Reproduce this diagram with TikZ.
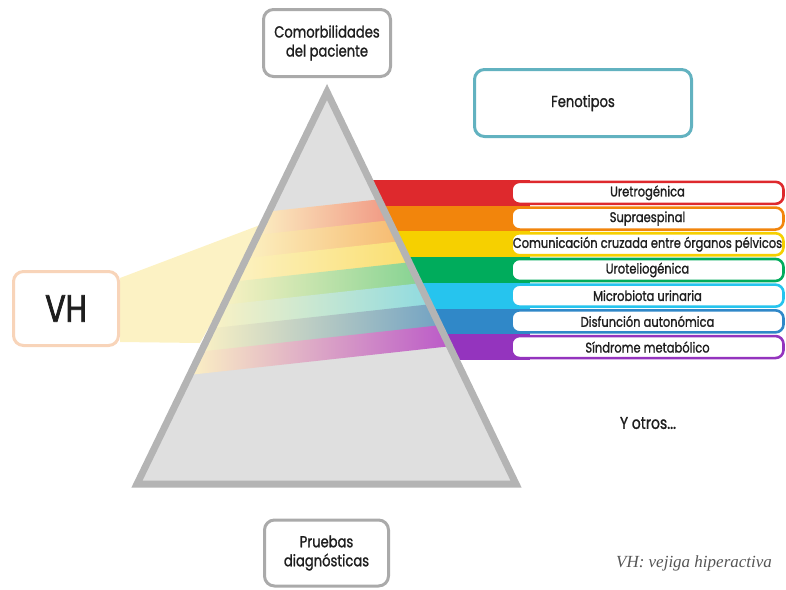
\documentclass[tikz,border=0pt]{standalone}
\usepackage{fontspec}
\setsansfont{Poppins}[FakeStretch=0.82, FakeBold=1.2]
\newfontfamily\vhfont{Poppins}[FakeStretch=0.8, FakeBold=2]
\newfontfamily\notefont{Liberation Serif}
\usetikzlibrary{positioning,backgrounds}

\definecolor{bandred}{RGB}{222,41,45}
\definecolor{bandorange}{RGB}{242,133,12}
\definecolor{bandyellow}{RGB}{246,208,0}
\definecolor{bandgreen}{RGB}{0,172,92}
\definecolor{bandcyan}{RGB}{38,196,238}
\definecolor{bandblue}{RGB}{48,136,200}
\definecolor{bandpurple}{RGB}{148,52,190}
\definecolor{innerred}{RGB}{240,150,130}
\definecolor{innerorange}{RGB}{246,185,110}
\definecolor{inneryellow}{RGB}{250,222,110}
\definecolor{innergreen}{RGB}{130,210,145}
\definecolor{innercyan}{RGB}{140,218,225}
\definecolor{innerblue}{RGB}{110,160,195}
\definecolor{innerpurple}{RGB}{185,85,200}
\definecolor{paleyellow}{RGB}{252,242,196}
\definecolor{prismfill}{RGB}{223,223,223}
\definecolor{prismgray}{RGB}{180,180,180}
\definecolor{boxgray}{RGB}{170,170,170}
\definecolor{boxteal}{RGB}{98,178,192}
\definecolor{boxpeach}{RGB}{248,212,185}
\definecolor{textdark}{RGB}{30,30,30}
\definecolor{notegray}{RGB}{85,85,85}

\begin{document}
\begin{tikzpicture}[
    x=1pt,
    y=-1pt,
    font=\sffamily,
    text=textdark,
    infobox/.style={
        draw=#1,
        fill=white,
        line width=3pt,
        rounded corners=10pt,
        align=center,
        font=\sffamily\fontsize{16}{19}\selectfont
    },
    phenotype/.style={
        draw=#1,
        fill=white,
        line width=2.6pt,
        rounded corners=8pt,
        inner sep=0pt,
        minimum width=272,
        minimum height=22,
        font=\sffamily\fontsize{14}{15}\selectfont
    },
    beam/.style={left color=paleyellow, right color=#1},
    prism/.style={draw=prismgray, line width=7pt}
]

\useasboundingbox (0,0) rectangle (786,589);

\node[infobox=boxgray, minimum width=127, minimum height=67] (comorb) at (327,43) {Comorbilidades\\del paciente};
\node[infobox=boxteal, minimum width=217, minimum height=67] (fenotipos) at (583,103) {Fenotipos};
\node[infobox=boxpeach, minimum width=105, minimum height=74] (vh) at (66,308.5) {\vhfont\fontsize{38}{40}\selectfont VH};
\node[infobox=boxgray, minimum width=124, minimum height=66] (pruebas) at (326.5,553) {Pruebas\\diagn\'osticas};

\node[phenotype=bandred] (uretro) at (647.5,192.85) {Uretrog\'enica};
\node[phenotype=bandorange, below=1.1pt of uretro] (supra) {Supraespinal};
\node[phenotype=bandyellow, below=1.1pt of supra] (cruzada) {Comunicaci\'on cruzada entre \'organos p\'elvicos};
\node[phenotype=bandgreen, below=1.1pt of cruzada] (urotelio) {Uroteliog\'enica};
\node[phenotype=bandcyan, below=1.1pt of urotelio] (microbiota) {Microbiota urinaria};
\node[phenotype=bandblue, below=1.1pt of microbiota] (disfuncion) {Disfunci\'on auton\'omica};
\node[phenotype=bandpurple, below=1.1pt of disfuncion] (metabolico) {S\'indrome metab\'olico};

\node[font=\sffamily\fontsize{17}{19}\selectfont] (otros) at (648,423) {Y otros...};
\node[text=notegray, font=\notefont\itshape\fontsize{17}{19}\selectfont] (nota) at (694,563) {VH: vejiga hiperactiva};

\begin{scope}[on background layer]
\fill[paleyellow] ([yshift=30.5pt]vh.east) -- (268,222) -- (200,343) -- ([yshift=-33.5pt]vh.east) -- cycle;

\fill[bandred] (360,180) rectangle (530,205.7);
\fill[bandorange] (360,205.7) rectangle (530,231.4);
\fill[bandyellow] (360,231.4) rectangle (530,257.1);
\fill[bandgreen] (360,257.1) rectangle (530,282.8);
\fill[bandcyan] (360,282.8) rectangle (530,308.5);
\fill[bandblue] (360,308.5) rectangle (530,334.2);
\fill[bandpurple] (360,334.2) rectangle (530,359.9);

\fill[prismfill] (327,92) -- (516,484) -- (137,484) -- cycle;
\begin{scope}
\clip (327,92) -- (516,484) -- (137,484) -- cycle;
\shade[beam=innerred] (250,213.53) -- (394,197.69) -- (394,221.79) -- (250,237.63) -- cycle;
\shade[beam=innerorange] (239.4,236.80) -- (404.6,218.62) -- (404.6,242.72) -- (239.4,260.90) -- cycle;
\shade[beam=inneryellow] (228.8,260.06) -- (415.2,239.56) -- (415.2,263.66) -- (228.8,284.16) -- cycle;
\shade[beam=innergreen] (218.2,283.33) -- (425.8,260.49) -- (425.8,284.59) -- (218.2,307.43) -- cycle;
\shade[beam=innercyan] (207.6,306.59) -- (436.4,281.43) -- (436.4,305.53) -- (207.6,330.69) -- cycle;
\shade[beam=innerblue] (197,329.86) -- (447,302.36) -- (447,326.46) -- (197,353.96) -- cycle;
\shade[beam=innerpurple] (186.4,353.13) -- (457.6,323.29) -- (457.6,345.39) -- (186.4,375.23) -- cycle;
\end{scope}
\draw[prism] (327,92) -- (516,484) -- (137,484) -- cycle;
\end{scope}

\end{tikzpicture}
\end{document}
